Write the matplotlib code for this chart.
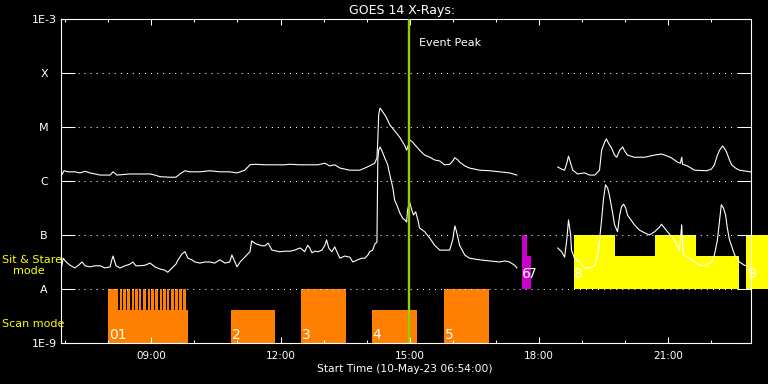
import numpy as np
import matplotlib
matplotlib.use('Agg')
import matplotlib.pyplot as plt
from matplotlib.ticker import NullLocator

plt.rcParams['font.family'] = ['DejaVu Sans']
plt.rcParams['lines.scale_dashes'] = False

# ---------------- data (hours of 10-May-23, log10 flux W/m^2) ----------------
long_time = [6.90, 6.97, 7.06, 7.22, 7.34, 7.46, 7.57, 7.81, 8.04, 8.11, 8.20, 8.50, 8.73, 8.97,
             9.08, 9.20, 9.43, 9.57, 9.66, 9.78, 9.89, 10.13, 10.36, 10.59, 10.82, 10.99, 11.17,
             11.29, 11.40, 11.64, 11.87, 12.10, 12.22, 12.45, 12.68, 12.87, 13.03, 13.14, 13.26,
             13.38, 13.61, 13.84, 13.96, 14.07, 14.19, 14.24, 14.26, 14.28, 14.31, 14.35, 14.45,
             14.54, 14.65, 14.77, 14.89, 14.93, 14.98, 15.00, 15.07, 15.12, 15.19, 15.23, 15.35,
             15.47, 15.58, 15.70, 15.81, 15.93, 15.98, 16.05, 16.12, 16.16, 16.28, 16.39, 16.63,
             16.86, 17.09, 17.32, 17.49, 17.9,
             18.44, 18.53, 18.60, 18.65, 18.69, 18.74, 18.79, 18.90, 19.06, 19.18, 19.30, 19.41,
             19.46, 19.53, 19.57, 19.62, 19.69, 19.76, 19.81, 19.88, 19.95, 19.99, 20.06, 20.22,
             20.46, 20.69, 20.85, 20.99, 21.08, 21.22, 21.29, 21.32, 21.34, 21.45, 21.62, 21.90,
             22.01, 22.08, 22.15, 22.20, 22.27, 22.31, 22.36, 22.43, 22.48, 22.57, 22.66, 22.92]
long_log = [-5.91, -5.81, -5.83, -5.83, -5.85, -5.82, -5.85, -5.89, -5.89, -5.83, -5.89, -5.87, -5.87, -5.87,
            -5.89, -5.92, -5.93, -5.93, -5.87, -5.81, -5.83, -5.83, -5.81, -5.83, -5.83, -5.85, -5.80,
            -5.70, -5.69, -5.70, -5.70, -5.70, -5.69, -5.70, -5.70, -5.70, -5.67, -5.72, -5.70,
            -5.76, -5.80, -5.80, -5.76, -5.72, -5.67, -5.57, -5.24, -4.78, -4.65, -4.69, -4.81,
            -4.96, -5.07, -5.19, -5.35, -5.43, -5.31, -5.24, -5.28, -5.33, -5.39, -5.43, -5.52,
            -5.56, -5.61, -5.63, -5.70, -5.69, -5.65, -5.57, -5.61, -5.65, -5.72, -5.76, -5.80,
            -5.81, -5.83, -5.85, -5.89, np.nan,
            -5.74, -5.78, -5.80, -5.67, -5.54, -5.67, -5.80, -5.87, -5.85, -5.89, -5.89, -5.80,
            -5.43, -5.28, -5.22, -5.30, -5.39, -5.52, -5.56, -5.43, -5.37, -5.44, -5.52, -5.56,
            -5.56, -5.52, -5.50, -5.54, -5.57, -5.65, -5.67, -5.56, -5.69, -5.72, -5.80, -5.81,
            -5.78, -5.70, -5.52, -5.43, -5.35, -5.39, -5.46, -5.61, -5.70, -5.76, -5.80, -5.83]

short_time = [6.90, 6.95, 7.02, 7.11, 7.22, 7.29, 7.39, 7.46, 7.57, 7.69, 7.81, 7.92, 8.04, 8.08,
              8.11, 8.15, 8.18, 8.27, 8.39, 8.50, 8.57, 8.64, 8.73, 8.85, 8.97, 9.08, 9.20, 9.31,
              9.38, 9.48, 9.57, 9.62, 9.71, 9.78, 9.85, 9.94, 10.01, 10.13, 10.24, 10.36, 10.47,
              10.59, 10.71, 10.82, 10.87, 10.94, 10.99, 11.06, 11.17, 11.29, 11.33, 11.40, 11.45,
              11.57, 11.64, 11.71, 11.80, 11.98, 12.10, 12.22, 12.33, 12.45, 12.52, 12.56, 12.63,
              12.68, 12.73, 12.80, 12.87, 12.96, 13.03, 13.07, 13.12, 13.19, 13.26, 13.31, 13.38,
              13.49, 13.61, 13.68, 13.79, 13.89, 13.96, 14.03, 14.07, 14.14, 14.19, 14.24, 14.26,
              14.28, 14.31, 14.35, 14.42, 14.49, 14.54, 14.61, 14.65, 14.72, 14.77, 14.84, 14.89,
              14.93, 14.95, 14.98, 15.00, 15.05, 15.09, 15.14, 15.19, 15.23, 15.35, 15.47, 15.58,
              15.70, 15.81, 15.93, 16.00, 16.05, 16.09, 16.16, 16.28, 16.39, 16.63, 16.86, 17.09,
              17.21, 17.32, 17.44, 17.49, 17.9,
              18.44, 18.53, 18.60, 18.65, 18.69, 18.74, 18.76, 18.83, 18.95, 19.06, 19.18, 19.30,
              19.37, 19.41, 19.46, 19.50, 19.55, 19.60, 19.64, 19.71, 19.76, 19.83, 19.88, 19.92,
              19.97, 20.02, 20.06, 20.22, 20.34, 20.46, 20.57, 20.69, 20.81, 20.85, 20.92, 20.99,
              21.15, 21.27, 21.29, 21.32, 21.34, 21.36, 21.50, 21.73, 21.85, 22.01, 22.08, 22.15,
              22.20, 22.24, 22.29, 22.34, 22.38, 22.43, 22.55, 22.66, 22.78, 22.92]
short_log = [-7.65, -7.43, -7.50, -7.56, -7.61, -7.57, -7.50, -7.57, -7.59, -7.57, -7.57, -7.61, -7.59, -7.46,
             -7.39, -7.50, -7.57, -7.61, -7.57, -7.54, -7.50, -7.57, -7.57, -7.56, -7.52, -7.59, -7.63, -7.65,
             -7.69, -7.61, -7.54, -7.46, -7.35, -7.31, -7.43, -7.46, -7.50, -7.52, -7.50, -7.50, -7.52,
             -7.46, -7.52, -7.50, -7.37, -7.50, -7.59, -7.50, -7.41, -7.31, -7.11, -7.15, -7.17,
             -7.20, -7.20, -7.15, -7.28, -7.31, -7.30, -7.30, -7.28, -7.24, -7.28, -7.31, -7.19,
             -7.24, -7.33, -7.30, -7.31, -7.28, -7.19, -7.09, -7.24, -7.31, -7.22, -7.31, -7.43,
             -7.39, -7.41, -7.50, -7.46, -7.43, -7.43, -7.37, -7.31, -7.28, -7.17, -7.13, -5.61,
             -5.43, -5.37, -5.43, -5.57, -5.70, -5.89, -6.13, -6.35, -6.48, -6.59, -6.69, -6.72,
             -6.76, -6.54, -6.44, -6.39, -6.54, -6.63, -6.57, -6.72, -6.87, -6.94, -7.06, -7.19,
             -7.28, -7.28, -7.28, -7.09, -6.83, -6.94, -7.19, -7.37, -7.43, -7.46, -7.48, -7.50,
             -7.48, -7.50, -7.56, -7.61, np.nan,
             -7.24, -7.31, -7.41, -7.09, -6.72, -7.00, -7.28, -7.43, -7.50, -7.61, -7.61, -7.56,
             -7.37, -7.09, -6.72, -6.35, -6.07, -6.13, -6.26, -6.57, -6.81, -6.94, -6.63, -6.48,
             -6.43, -6.50, -6.63, -6.81, -6.91, -6.96, -7.00, -6.94, -6.85, -6.80, -6.87, -6.94,
             -7.09, -7.28, -7.09, -6.81, -7.19, -7.37, -7.43, -7.56, -7.57, -7.50, -7.37, -7.09,
             -6.72, -6.44, -6.50, -6.63, -6.87, -7.09, -7.37, -7.50, -7.56, -7.59]

# Scan-mode observations (orange)
scan_start = [7.99, 10.85, 12.47, 14.12, 15.79]
scan_end = [9.85, 11.87, 13.52, 15.16, 16.84]
scan_top = [1e-8, 4.1e-9, 1e-8, 4.1e-9, 1e-8]
scan_label = ['01', '2', '3', '4', '5']
scan_gap_start = [8.22, 8.31, 8.40, 8.50, 8.59, 8.68, 8.77, 8.87, 8.96,
                  9.05, 9.15, 9.24, 9.33, 9.42, 9.52, 9.61, 9.70, 9.80]
scan_gap_width = 0.04
scan_gap_bottom = 4.1e-9

# Sit & Stare observations
stare_start = [17.60, 17.72, 18.81, 19.76, 20.71, 21.66, 22.82]
stare_end = [17.72, 17.81, 19.76, 20.71, 21.66, 22.64, 23.50]
stare_top = [1e-7, 4.1e-8, 1e-7, 4.1e-8, 1e-7, 4.1e-8, 1e-7]
stare_color = ['#cc00cc', '#cc00cc', '#ffff00', '#ffff00', '#ffff00', '#ffff00', '#ffff00']
stare_label_pos = [17.60, 17.72, 18.81, 22.82]
stare_label = ['6', '7', '8', '9']

event_peak = 14.99

x_major = [9, 12, 15, 18, 21]
x_major_labels = ['09:00', '12:00', '15:00', '18:00', '21:00']
x_minor = [7, 8, 10, 11, 13, 14, 16, 17, 19, 20, 22]
y_ticks = [1e-9, 1e-8, 1e-7, 1e-6, 1e-5, 1e-4, 1e-3]
y_labels = ['1E-9', 'A', 'B', 'C', 'M', 'X', '1E-3']
grid_levels = [1e-8, 1e-7, 1e-6, 1e-5, 1e-4]

# ---------------- figure ----------------
W, H = 768, 384
fig = plt.figure(figsize=(W / 100, H / 100), dpi=100, facecolor='black')
ax = fig.add_axes([61 / W, 41 / H, 690 / W, 324 / H], facecolor='black')
ax.set_yscale('log')
ax.set_xlim(6.9, 22.93)
ax.set_ylim(1e-9, 1e-3)

# orange scan bars
ax.bar(scan_start, np.array(scan_top) - 1e-9, width=np.array(scan_end) - np.array(scan_start),
       bottom=1e-9, align='edge', color='#ff8000', linewidth=0, zorder=1)
ax.bar(scan_gap_start, scan_top[0] - scan_gap_bottom, width=scan_gap_width, bottom=scan_gap_bottom,
       align='edge', color='black', linewidth=0, zorder=1.1)
for s, lab in zip(scan_start, scan_label):
    ax.annotate(lab, xy=(s, 1e-9), xytext=(0.6, 3.0), textcoords='offset points',
                color='white', fontsize=10, ha='left', va='baseline', zorder=4)

# sit & stare bars
ax.bar(stare_start, np.array(stare_top) - 1e-8, width=np.array(stare_end) - np.array(stare_start),
       bottom=1e-8, align='edge', color=stare_color, linewidth=0, zorder=1, clip_on=False)
for s, lab in zip(stare_label_pos, stare_label):
    ax.annotate(lab, xy=(s, 1e-8), xytext=(0.6, 7.9), textcoords='offset points',
                color='white', fontsize=10, ha='left', va='baseline', zorder=4,
                annotation_clip=False)

# dotted grid
for lv in grid_levels:
    ax.axhline(lv, xmin=17 / 690, xmax=676 / 690, color='white', lw=0.75,
               dashes=(0.75, 3.6), zorder=1.5)

# light curves
ax.plot(long_time, 10 ** np.array(long_log), color='white', lw=0.8, zorder=2)
ax.plot(short_time, 10 ** np.array(short_log), color='white', lw=0.8, zorder=2)

# event peak
ax.axvline(event_peak, color='#9acd00', lw=1.7, zorder=3)
ax.annotate('Event Peak', xy=(event_peak, (343 - 43) / 324), xycoords=('data', 'axes fraction'),
            xytext=(7, 0), textcoords='offset points', color='white', fontsize=8,
            ha='left', va='center')

# axes styling
for sp in ax.spines.values():
    sp.set_color('white')
    sp.set_linewidth(0.8)
ax.set_xticks(x_major)
ax.set_xticklabels(x_major_labels)
ax.set_xticks(x_minor, minor=True)
ax.tick_params(axis='x', which='major', direction='in', length=4.3, width=0.75, top=True,
               bottom=True, colors='white', labelsize=7.5, pad=5.5)
ax.tick_params(axis='x', which='minor', direction='in', length=2.2, width=0.75, top=True,
               bottom=True, colors='white')
ax.set_yticks(y_ticks)
ax.set_yticklabels(y_labels)
ax.yaxis.set_minor_locator(NullLocator())
ax.tick_params(axis='y', which='major', direction='in', length=10, width=0.75, left=True,
               right=True, colors='white', labelsize=8, pad=12.2)
for lab in ax.get_yticklabels():
    lab.set_horizontalalignment('center')

# texts
fig.text(402 / W, (H - 14) / H, 'GOES 14 X-Rays:', color='white', fontsize=9,
         ha='center', va='baseline')
fig.text(405 / W, (H - 372) / H, 'Start Time (10-May-23 06:54:00)', color='white',
         fontsize=7.7, ha='center', va='baseline')
fig.text(2 / W, (H - 262.7) / H, 'Sit & Stare', color='#ffff00', fontsize=8, va='baseline')
fig.text(12.7 / W, (H - 274) / H, 'mode', color='#ffff00', fontsize=8, va='baseline')
fig.text(2 / W, (H - 327.3) / H, 'Scan mode', color='#ffff00', fontsize=8, va='baseline')

fig.savefig('out.png', dpi=100, facecolor='black')
